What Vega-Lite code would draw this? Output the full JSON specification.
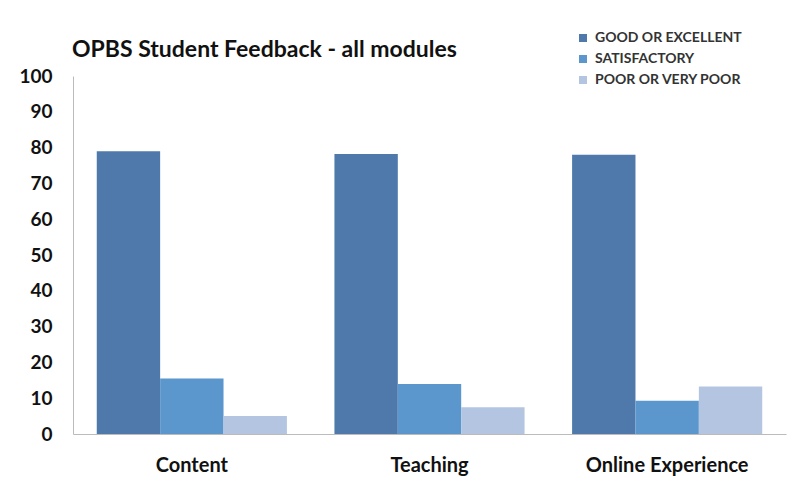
{
  "$schema": "https://vega.github.io/schema/vega-lite/v6.json",
  "width": 713,
  "height": 358,
  "autosize": {"type": "none"},
  "padding": {"left": 73, "top": 76, "right": 10, "bottom": 48},
  "background": "white",
  "title": {
    "text": "OPBS Student Feedback - all modules",
    "anchor": "start",
    "frame": "group",
    "font": "Lato",
    "fontSize": 23,
    "fontWeight": "bold",
    "color": "#111111",
    "offset": -31,
    "dx": -1
  },
  "data": {
    "values": [
      {"area": "Content", "rating": "GOOD OR EXCELLENT", "value": 79},
      {"area": "Content", "rating": "SATISFACTORY", "value": 15.5},
      {"area": "Content", "rating": "POOR OR VERY POOR", "value": 5},
      {"area": "Teaching", "rating": "GOOD OR EXCELLENT", "value": 78.2},
      {"area": "Teaching", "rating": "SATISFACTORY", "value": 14},
      {"area": "Teaching", "rating": "POOR OR VERY POOR", "value": 7.5},
      {"area": "Online Experience", "rating": "GOOD OR EXCELLENT", "value": 78},
      {"area": "Online Experience", "rating": "SATISFACTORY", "value": 9.3},
      {"area": "Online Experience", "rating": "POOR OR VERY POOR", "value": 13.3}
    ]
  },
  "mark": {"type": "bar"},
  "encoding": {
    "x": {
      "field": "area",
      "type": "nominal",
      "sort": ["Content", "Teaching", "Online Experience"],
      "scale": {"paddingInner": 0.2, "paddingOuter": 0.1},
      "axis": {
        "title": null,
        "labelAngle": 0,
        "ticks": false,
        "domainColor": "#bbbbbb",
        "labelFont": "Lato",
        "labelFontSize": 20,
        "labelFontWeight": "bold",
        "labelColor": "#111111",
        "labelPadding": 21
      }
    },
    "xOffset": {
      "field": "rating",
      "type": "nominal",
      "sort": ["GOOD OR EXCELLENT", "SATISFACTORY", "POOR OR VERY POOR"],
      "scale": {"paddingInner": 0, "paddingOuter": 0}
    },
    "y": {
      "field": "value",
      "type": "quantitative",
      "scale": {"domain": [0, 100], "nice": false},
      "axis": {
        "title": null,
        "values": [0, 10, 20, 30, 40, 50, 60, 70, 80, 90, 100],
        "grid": false,
        "ticks": false,
        "domainColor": "#bbbbbb",
        "labelFont": "Lato",
        "labelFontSize": 19,
        "labelFontWeight": "bold",
        "labelColor": "#111111",
        "labelPadding": 21
      }
    },
    "color": {
      "field": "rating",
      "type": "nominal",
      "sort": ["GOOD OR EXCELLENT", "SATISFACTORY", "POOR OR VERY POOR"],
      "scale": {
        "domain": ["GOOD OR EXCELLENT", "SATISFACTORY", "POOR OR VERY POOR"],
        "range": ["#4e79aa", "#5b96cd", "#b3c5e0"]
      },
      "legend": {
        "title": null,
        "orient": "none",
        "legendX": 503,
        "legendY": -45,
        "symbolType": "square",
        "symbolSize": 64,
        "symbolStrokeWidth": 0,
        "labelFont": "Lato",
        "labelFontSize": 14,
        "labelFontWeight": "bold",
        "labelColor": "#333333",
        "rowPadding": 7,
        "labelOffset": 5
      }
    }
  },
  "config": {"view": {"stroke": null}}
}
